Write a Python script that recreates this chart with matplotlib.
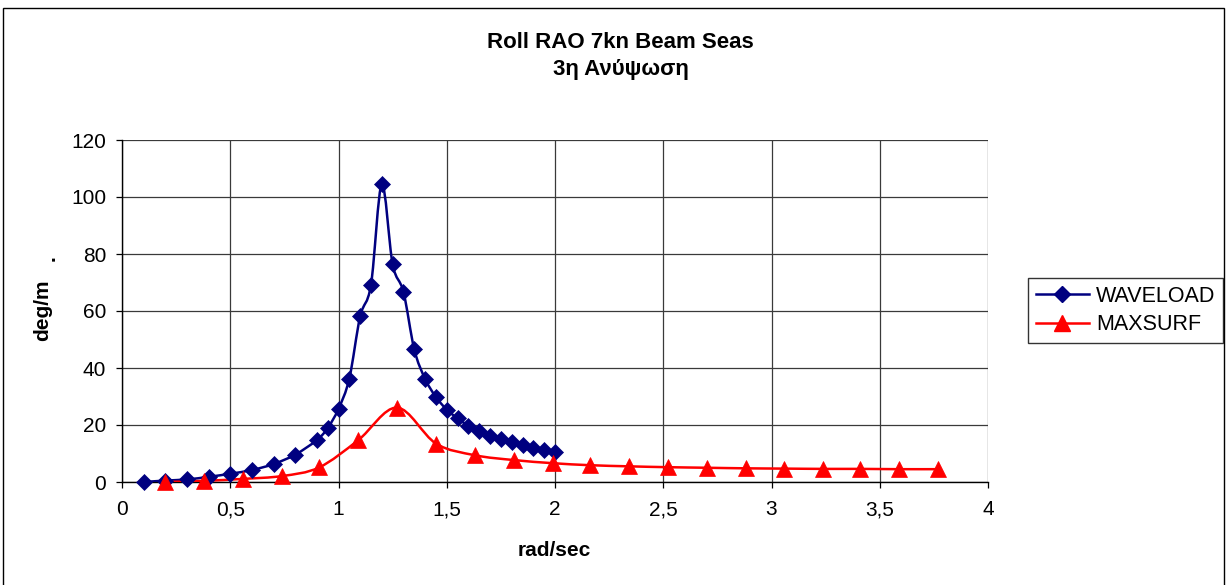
import matplotlib
matplotlib.use("Agg")
import matplotlib.pyplot as plt
from matplotlib.path import Path
from matplotlib.patches import PathPatch, Rectangle

plt.rcParams['font.family'] = ['Liberation Sans', 'DejaVu Sans']

# WAVELOAD roll RAO
wave_freq = [0.10, 0.20, 0.30, 0.40, 0.50, 0.60, 0.70, 0.80, 0.90, 0.95,
             1.00, 1.05, 1.10, 1.15, 1.20, 1.25, 1.30, 1.35, 1.40, 1.45,
             1.50, 1.55, 1.60, 1.65, 1.70, 1.75, 1.80, 1.85, 1.90, 1.95, 2.00]
wave_rao = [0.0, 0.5, 0.9, 1.8, 2.9, 4.2, 6.3, 9.6, 14.7, 18.9,
            25.7, 36.3, 58.1, 69.2, 104.5, 76.4, 66.7, 46.5, 36.2, 29.8,
            25.4, 22.3, 19.8, 17.9, 16.3, 15.0, 13.9, 12.9, 12.0, 11.2, 10.5]

# MAXSURF roll RAO
maxs_freq = [0.20, 0.38, 0.56, 0.74, 0.91, 1.09, 1.27, 1.45, 1.63, 1.81,
             1.99, 2.16, 2.34, 2.52, 2.70, 2.88, 3.06, 3.24, 3.41, 3.59, 3.77]
maxs_rao = [0.0, 0.4, 1.1, 2.1, 5.1, 14.6, 26.1, 13.5, 9.4, 7.7,
            6.6, 5.9, 5.5, 5.2, 5.0, 4.8, 4.7, 4.6, 4.6, 4.5, 4.5]

x_ticks = [0, 0.5, 1, 1.5, 2, 2.5, 3, 3.5, 4]
x_tick_labels = ["0", "0,5", "1", "1,5", "2", "2,5", "3", "3,5", "4"]
y_ticks = [0, 20, 40, 60, 80, 100, 120]

title_line1 = "Roll RAO 7kn Beam Seas"
title_line2 = "3η Ανύψωση"


def smooth_path(xs, ys):
    """Cubic Bezier path through the points (Catmull-Rom style smoothing)."""
    pts = list(zip(xs, ys))
    n = len(pts)
    verts = [pts[0]]
    codes = [Path.MOVETO]
    for i in range(n - 1):
        p0 = pts[i - 1] if i > 0 else pts[i]
        p1 = pts[i]
        p2 = pts[i + 1]
        p3 = pts[i + 2] if i + 2 < n else pts[i + 1]
        c1 = (p1[0] + (p2[0] - p0[0]) / 6.0, p1[1] + (p2[1] - p0[1]) / 6.0)
        c2 = (p2[0] - (p3[0] - p1[0]) / 6.0, p2[1] - (p3[1] - p1[1]) / 6.0)
        verts += [c1, c2, p2]
        codes += [Path.CURVE4, Path.CURVE4, Path.CURVE4]
    return Path(verts, codes)


W, H = 1228, 585
fig = plt.figure(figsize=(W / 100, H / 100), dpi=100)
fig.patch.set_facecolor('white')

# outer chart border
fig.patches.append(Rectangle((3 / W, -0.01), (1224 - 3) / W, 1.01 - 8 / H,
                             transform=fig.transFigure, fill=False,
                             edgecolor='black', linewidth=1.0))

ax = fig.add_axes([122 / W, 1 - 482 / H, (988 - 122) / W, (482 - 140) / H])
ax.set_xlim(0, 4)
ax.set_ylim(0, 120)
ax.set_xticks(x_ticks)
ax.set_xticklabels(x_tick_labels)
ax.set_yticks(y_ticks)
ax.tick_params(axis='both', direction='out', length=4.3, width=0.9,
               labelsize=15, color='black')
ax.tick_params(axis='y', pad=7)
ax.tick_params(axis='x', pad=9)
ax.grid(True, color='#3a3a3a', linewidth=0.9)
ax.set_axisbelow(True)
for side in ('top', 'right'):
    ax.spines[side].set_visible(False)
for side in ('left', 'bottom'):
    ax.spines[side].set_linewidth(1.0)
    ax.spines[side].set_color('black')

navy = '#000080'
red = '#FF0000'

ax.add_patch(PathPatch(smooth_path(wave_freq, wave_rao), facecolor='none',
                       edgecolor=navy, linewidth=1.8, zorder=3))
ax.add_patch(PathPatch(smooth_path(maxs_freq, maxs_rao), facecolor='none',
                       edgecolor=red, linewidth=1.8, zorder=3))

ax.plot(wave_freq, wave_rao, linestyle='none', marker='D', markersize=8.2,
        color=navy, markeredgewidth=0.5, zorder=4, clip_on=False)
ax.plot(maxs_freq, maxs_rao, linestyle='none', marker='^', markersize=11,
        color=red, markeredgewidth=0.5, zorder=5, clip_on=False)

# legend
h1, = ax.plot([], [], color=navy, linewidth=1.8, marker='D', markersize=8.2)
h2, = ax.plot([], [], color=red, linewidth=1.8, marker='^', markersize=11)
leg = fig.legend([h1, h2], ['WAVELOAD', 'MAXSURF'], loc='center left',
                 bbox_to_anchor=(1028 / W, 1 - 310.5 / H), fontsize=15.5,
                 frameon=True, fancybox=False, shadow=False,
                 handlelength=2.5, handletextpad=0.3, borderpad=0.35,
                 labelspacing=0.35, borderaxespad=0.0)
leg.get_frame().set_edgecolor('black')
leg.get_frame().set_linewidth(1.0)

# titles and axis labels
fig.text(620.5 / W, 1 - 47.5 / H, title_line1, ha='center', va='baseline',
         fontsize=16, fontweight='bold')
fig.text(620.5 / W, 1 - 75.5 / H, title_line2, ha='center', va='baseline',
         fontsize=16, fontweight='bold')
fig.text(554 / W, 1 - 550 / H, 'rad/sec', ha='center', va='center',
         fontsize=15, fontweight='bold')
fig.text(43 / W, 1 - 310 / H, 'deg/m', ha='center', va='center',
         rotation=90, fontsize=15, fontweight='bold')
fig.text(49 / W, 1 - 258 / H, '.', ha='center', va='center',
         rotation=90, fontsize=15, fontweight='bold')

fig.savefig('out.png', dpi=100)
